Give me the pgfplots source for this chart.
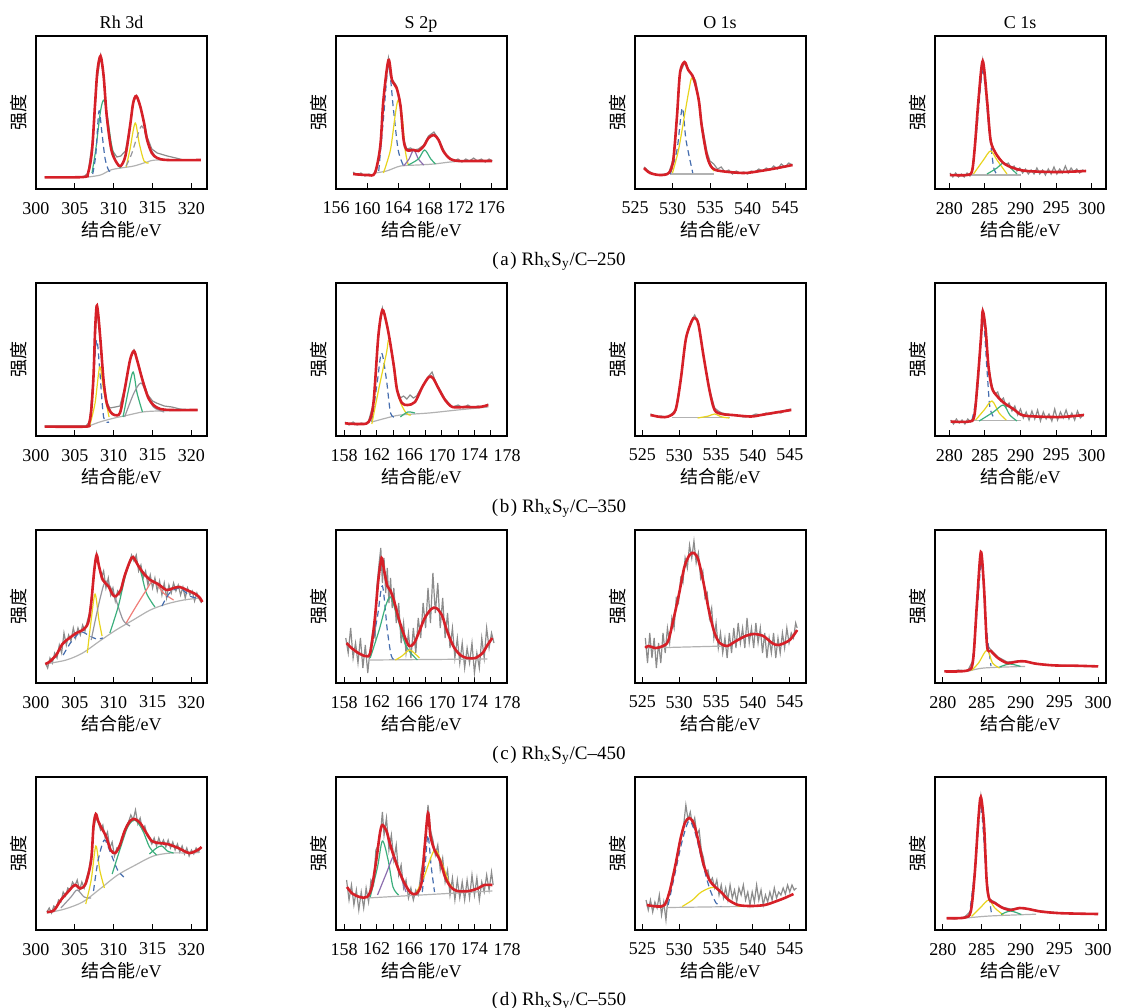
\documentclass[border=0pt]{standalone}
\usepackage{pgfplots}
\pgfplotsset{compat=1.18}
\usepackage{fontspec}
\setmainfont{Liberation Serif}
\newfontfamily\cjk{Noto Sans CJK SC}
\definecolor{fitred}{RGB}{214,32,40}
\definecolor{rawgray}{RGB}{140,140,140}
\definecolor{cblue}{RGB}{70,110,175}
\definecolor{cgreen}{RGB}{60,175,125}
\definecolor{cyellow}{RGB}{232,212,30}
\definecolor{cbg}{RGB}{178,178,178}
\definecolor{csalmon}{RGB}{240,125,120}
\definecolor{cpurple}{RGB}{140,110,175}
\definecolor{cgraycomp}{RGB}{150,150,158}
\newcommand{\capt}[2]{(\kern0.8pt #1\kern0.8pt)\kern2.5pt Rh\textsubscript{x}S\textsubscript{y}/C–#2}
\pgfplotsset{
  xps/.style={
    scale only axis, width=85.5pt, height=76.5pt,
    ymin=0, ymax=153, ytick=\empty,
    xtick pos=bottom, tick align=inside,
    major tick length=3pt, minor tick length=3pt,
    axis line style={line width=0.6pt},
    every tick/.style={black, line width=0.5pt},
    /pgf/number format/assume math mode=true,
    /pgf/number format/1000 sep={},
    ticklabel style={font=\fontsize{9}{10}\selectfont},
    xticklabel style={yshift=-3pt},
    xlabel={{\cjk 结合能}/eV},
    ylabel={\cjk 强度},
    xlabel style={at={(axis description cs:0.5,-0.31)}, anchor=base},
    ylabel style={at={(axis description cs:-0.1,0.5)}, anchor=center},
    label style={font=\fontsize{9}{10}\selectfont},
  },
  rh/.style={xps, xmin=300, xmax=322, xtick={300,305,...,320}},
  sa/.style={xps, xmin=156, xmax=178, xtick={156,160,...,176}},
  sb/.style={xps, xmin=157, xmax=178, xtick={158,162,...,178}, minor xtick={160,164,...,176}},
  oa/.style={xps, xmin=525, xmax=547.8, xtick={525,530,...,545}},
  ob/.style={xps, xmin=524, xmax=547.2, xtick={525,530,...,545}},
  ca/.style={xps, xmin=278, xmax=302, xtick={280,285,...,300}},
  cb/.style={xps, xmin=279, xmax=301, xtick={280,285,...,300}},
  raw/.style={rawgray, line width=0.6pt},
  fit/.style={fitred, line width=1.3pt, smooth},
  comp/.style={line width=0.6pt, smooth},
  bg/.style={cbg, line width=0.6pt, smooth},
}
\begin{document}
\begin{tikzpicture}[font=\fontsize{9}{10}\selectfont]
\useasboundingbox (0,0) rectangle (560.5pt,-504pt);
% column titles
\node[anchor=base] at (60.75pt,-14pt) {Rh 3d};
\node[anchor=base] at (210.5pt,-14pt) {S 2p};
\node[anchor=base] at (360pt,-14pt) {O 1s};
\node[anchor=base] at (510pt,-14pt) {C 1s};
% captions
\begin{scope}[every node/.style={font=\fontsize{9.5}{11}\selectfont, anchor=base}]
\node at (279.5pt,-132.5pt) {\capt{a}{250}};
\node at (279.5pt,-256pt) {\capt{b}{350}};
\node at (279.5pt,-379.5pt) {\capt{c}{450}};
\node at (279.5pt,-502.5pt) {\capt{d}{550}};
\end{scope}

%================ ROW A ================
\begin{axis}[rh, at={(18pt,-18pt)}, anchor=north west]
\addplot[raw] coordinates {(301.1,12)(306.1,12)(306.7,16)(307.4,56)(307.8,106)(308.3,133)(308.7,113)(309.1,73)(309.7,40)(310.4,32)(310.9,33)(311.5,38)(312.1,63)(312.5,86)(312.9,93)(313.4,83)(313.9,68)(314.3,52)(314.9,40)(315.6,36)(316.9,33)(318,31)(319,29)(321.2,29)};
\addplot[bg] coordinates {(306.7,12)(308.3,14)(309.6,19)(310.9,21)(312.6,23)(314.3,27)(315.6,29)(321.2,29)};
\addplot[comp, cgreen] coordinates {(307.2,16)(307.7,40)(308.3,78)(308.75,89)(309.2,72)(309.7,45)(310.3,27)(310.9,21)};
\addplot[comp, cblue, densely dashed] coordinates {(307.3,15)(307.7,35)(308.1,78)(308.5,55)(308.9,30)(309.4,18)(310,17)};
\addplot[comp, cyellow] coordinates {(311.6,22)(312.1,40)(312.76,66)(313.3,45)(313.9,28)(314.5,26)};
\addplot[comp, cgraycomp, densely dashed] coordinates {(311.6,23)(312.3,35)(313,52)(313.6,63)(314.2,52)(314.9,38)(315.6,31)(316.5,29)};
\addplot[fit] coordinates {(301.1,11.7)(306.1,12)(306.7,16)(307.2,38)(307.6,85)(307.9,118)(308.3,133)(308.7,113)(309.1,73)(309.7,39)(310.4,26)(310.9,23)(311.5,33)(312.1,63)(312.5,86)(312.9,93)(313.4,83)(313.9,66)(314.3,49)(314.9,36)(315.6,31)(316.9,29)(321.2,29)};
\end{axis}

\begin{axis}[sa, at={(168pt,-18pt)}, anchor=north west]
\addplot[raw] coordinates {(158.2,17)(158.7,14)(159.2,16)(159.7,13)(160.2,15)(160.7,14)(161.2,18)(161.7,43)(162.1,89)(162.75,131)(163.2,110)(163.8,103)(164.3,84)(164.7,50)(165.1,40)(165.6,41)(166,39)(166.6,40)(167.3,44)(167.9,53)(168.6,57)(169.2,50)(169.8,40)(170.2,33)(170.7,31)(171.2,28)(171.7,30)(172.2,27)(172.7,30)(173.2,28)(173.7,31)(174.2,28)(174.7,30)(175.2,27)(175.7,30)(176.1,28)};
\addplot[bg] coordinates {(161,16)(162.5,18)(164.3,23)(166.5,24)(168.6,25)(170.7,27)(172.9,28)(176.1,28)};
\addplot[comp, cblue, densely dashed] coordinates {(161.5,18)(162.1,70)(162.75,123)(163.4,79)(164,39)(164.7,23)};
\addplot[comp, cyellow] coordinates {(162.1,16)(163,39)(163.6,73)(164,89)(164.5,73)(164.9,39)(165.3,24)};
\addplot[comp, cpurple] coordinates {(164.7,23)(165.4,30)(166,39)(166.6,30)(167.3,24)};
\addplot[comp, cgreen] coordinates {(165.3,24)(166.6,30)(167.4,39)(168.2,30)(168.8,25)};
\addplot[fit] coordinates {(158.2,15)(160,14)(161,16)(161.7,43)(162.1,89)(162.75,129)(163.2,109)(163.8,101)(164.3,83)(164.7,49)(165.1,39)(166,39)(166.6,38)(167.3,43)(167.9,51)(168.6,54)(169.2,49)(169.8,38)(170.7,30)(171.8,28)(173.7,28)(176.1,28)};
\end{axis}

\begin{axis}[oa, at={(317.5pt,-18pt)}, anchor=north west]
\addplot[raw] coordinates {(526.2,22)(526.8,18)(527.5,15)(528.3,14)(529.5,16)(530.1,30)(530.6,73)(531,116)(531.6,126)(532.1,120)(532.6,114)(533.1,108)(533.5,90)(533.9,66)(534.6,37)(535,28)(535.5,25)(536,20)(536.5,22)(537,17)(537.5,19)(538,15)(538.5,18)(539,16)(539.5,17)(540,15)(540.5,18)(541,17)(541.5,20)(542,18)(542.5,21)(543,19)(543.5,23)(544,20)(544.5,25)(545,22)(545.5,26)(546,24)};
\addplot[bg] coordinates {(529.7,15)(535.5,15)};
\addplot[comp, cblue, densely dashed] coordinates {(529.7,15)(530.6,39)(531.3,81)(531.8,49)(532.7,16)};
\addplot[comp, cyellow] coordinates {(530,16)(530.8,39)(531.5,69)(532.2,99)(532.6,111)(533.3,96)(533.9,63)(534.6,33)(535.5,18)};
\addplot[fit] coordinates {(526.2,21)(527,16)(528.3,14)(529.5,16)(530.1,29)(530.6,73)(531,116)(531.6,127)(532.1,119)(532.8,111)(533.5,89)(533.9,63)(534.6,33)(535.3,21)(536.4,18)(539.5,16)(541.7,18)(544,21)(546,24)};
\end{axis}

\begin{axis}[ca, at={(467.5pt,-18pt)}, anchor=north west]
\addplot[raw] coordinates {(280.1,16)(280.5,12)(280.9,16)(281.3,12)(281.7,15)(282.1,12)(282.5,16)(282.9,13)(283.3,20)(283.6,43)(284.1,89)(284.7,128)(285.3,89)(285.8,49)(286.3,39)(286.7,33)(287.1,30)(287.5,27)(287.9,25)(288.3,26)(288.7,21)(289.1,23)(289.5,18)(289.9,21)(290.3,16)(290.7,20)(291.1,15)(291.5,19)(291.9,15)(292.3,21)(292.7,15)(293.1,19)(293.5,14)(293.9,20)(294.3,15)(294.7,22)(295.1,15)(295.5,20)(295.9,16)(296.3,23)(296.7,16)(297.1,21)(297.5,17)(297.9,20)(298.3,16)(298.7,19)(299.2,18)};
\addplot[bg] coordinates {(283,14)(290,14)};
\addplot[comp, cblue, densely dashed] coordinates {(283.2,16)(283.9,62)(284.7,118)(285.5,66)(286.2,23)(286.7,15)};
\addplot[comp, cyellow] coordinates {(283.4,15)(284.8,29)(285.8,38)(286.7,29)(288.1,15)};
\addplot[comp, cgreen] coordinates {(285.3,15)(286.7,21)(287.6,26)(288.6,21)(289.5,15)};
\addplot[fit] coordinates {(280.1,14)(282.5,14)(283.2,18)(283.6,43)(284.1,89)(284.7,128)(285.3,89)(285.8,49)(286.5,36)(287.6,26)(289,21)(290.9,18)(295.2,17)(299.2,18)};
\end{axis}

%================ ROW B ================
\begin{axis}[rh, at={(18pt,-141.5pt)}, anchor=north west]
\addplot[raw] coordinates {(301.1,10)(306.4,10)(306.9,14)(307.4,60)(307.8,130)(308.3,95)(308.7,55)(309.1,34)(309.5,28)(310.2,29)(310.8,30)(311.4,48)(312.1,77)(312.6,86)(313,77)(313.7,57)(314.4,41)(315,35)(315.5,33)(316.5,30)(317.5,29)(318.5,27)(320.8,26)};
\addplot[bg] coordinates {(306.6,9.4)(308.2,14)(310.1,18)(311.9,21)(313.7,24)(315.6,25)(320.8,26)};
\addplot[comp, cblue, densely dashed] coordinates {(306.9,10)(307.3,49)(307.8,96)(308.2,66)(308.7,19)(309.4,14)};
\addplot[comp, cyellow] coordinates {(306.9,10)(307.6,33)(308.2,69)(308.7,46)(309.4,19)};
\addplot[comp, cgreen] coordinates {(311.2,19)(311.9,46)(312.5,64)(313,43)(313.7,24)};
\addplot[comp, cgraycomp] coordinates {(311.4,19)(312.6,43)(313.5,53)(314.2,43)(315.1,29)(316.5,24)};
\addplot[fit] coordinates {(301.1,9.4)(306.4,9.4)(306.8,12)(307.1,25)(307.4,60)(307.6,105)(307.8,130)(308,122)(308.3,95)(308.7,55)(309.1,33)(309.6,24)(310.1,21)(310.8,23)(311.4,46)(312.1,76)(312.6,85)(313,76)(313.7,56)(314.4,39)(315.1,31)(316,27)(317.4,26)(320.8,26)};
\end{axis}

\begin{axis}[sb, at={(168pt,-141.5pt)}, anchor=north west]
\addplot[raw] coordinates {(158.1,14)(158.6,11)(159.1,14)(159.6,11)(160.1,13)(160.6,12)(161,15)(161.6,33)(162.2,100)(162.7,128)(163.2,113)(163.6,96)(164.1,70)(164.5,47)(164.9,38)(165.3,40)(165.7,37)(166.1,41)(166.5,38)(166.9,40)(167.6,50)(168.4,60)(168.8,64)(169.1,57)(169.5,50)(170.4,37)(171.3,29)(172,31)(172.6,28)(173.2,31)(173.8,28)(174.4,30)(175,29)(175.7,32)};
\addplot[bg] coordinates {(161.4,14)(163.2,18)(164.9,21)(168.4,23)(171.9,26)(175.7,29)};
\addplot[comp, cblue, densely dashed] coordinates {(161.4,14)(162.1,56)(162.6,83)(163.2,56)(163.7,23)(164.3,19)};
\addplot[comp, cyellow] coordinates {(161.4,12)(162.3,49)(163.2,83)(163.5,96)(164.1,73)(164.7,39)(165.6,23)(166.2,21)};
\addplot[comp, cgreen] coordinates {(164.9,19)(165.8,24)(166.7,23)};
\addplot[fit] coordinates {(158.1,12.7)(159.7,12)(161,14)(161.6,33)(162.2,100)(162.7,126)(163.2,113)(163.6,96)(164.1,70)(164.5,46)(165.1,33)(165.8,31)(166.7,34)(167.6,49)(168.4,59)(168.9,58)(169.5,49)(170.4,36)(171.3,29)(172.8,29)(174.6,29)(175.7,31)};
\end{axis}

\begin{axis}[ob, at={(317.5pt,-141.5pt)}, anchor=north west]
\addplot[raw] coordinates {(526.1,22)(527,19)(527.5,20)(528.5,19)(529.5,26)(530.2,56)(530.9,97)(531.7,116)(532.1,121)(532.6,113)(533.3,80)(534.1,47)(534.8,28)(535.3,25)(535.8,23)(536.5,22)(537.2,21)(538,20)(538.8,19)(539.7,20)(540.4,22)(541.1,21)(541.8,23)(542.5,22)(543.1,24)(543.8,23)(544.5,26)(545.2,27)};
\addplot[bg] coordinates {(529,18.5)(536.8,18.5)};
\addplot[comp, cyellow] coordinates {(532.5,18)(534,20)(534.8,22)(535.8,19)(536.8,18)};
\addplot[fit] coordinates {(526.1,21)(527.5,19)(528.5,19.5)(529.5,26)(530.2,56)(530.9,97)(531.7,115)(532.1,118)(532.6,112)(533.3,80)(534.1,46)(534.8,26)(535.8,22)(537.2,21)(539.7,19.5)(541.1,21)(543.1,23.5)(545.2,26)};
\end{axis}

\begin{axis}[ca, at={(467.5pt,-141.5pt)}, anchor=north west]
\addplot[raw] coordinates {(280.2,16)(280.6,12)(281,17)(281.4,13)(281.8,16)(282.2,12)(282.6,17)(283,14)(283.5,20)(284,56)(284.5,103)(284.7,125)(285.1,107)(285.5,70)(286,50)(286.4,42)(286.8,44)(287.2,35)(287.6,38)(288,29)(288.4,33)(288.8,25)(289.2,30)(289.6,21)(290,27)(290.4,18)(290.8,24)(291.2,16)(291.6,25)(292,17)(292.4,26)(292.8,15)(293.2,24)(293.6,17)(294,22)(294.4,15)(294.8,27)(295.2,16)(295.6,24)(296,18)(296.4,26)(296.8,17)(297.2,23)(297.6,16)(298,25)(298.4,18)(298.9,22)};
\addplot[bg] coordinates {(282.5,15.4)(290,15.4)};
\addplot[comp, cblue, densely dashed] coordinates {(283.2,16)(284,49)(284.7,120)(285.3,66)(285.7,29)(286.3,18)};
\addplot[comp, cyellow] coordinates {(283.7,16)(284.9,26)(286,35)(287,23)(288,16)};
\addplot[comp, cgreen] coordinates {(284.2,15)(286.2,24)(287.6,31)(288.5,21)(289.5,15)};
\addplot[fit] coordinates {(280.2,14.4)(282.7,14.4)(283.5,19.5)(284,56)(284.5,103)(284.7,125)(285.1,107)(285.5,70)(286,48)(286.7,40)(287.7,33)(289,27)(290.2,21)(292.2,19.5)(295.7,19)(298.9,21)};
\end{axis}

%================ ROW C ================
\begin{axis}[rh, at={(18pt,-265pt)}, anchor=north west]
\addplot[raw] coordinates {(301.2,20)(301.5,15)(301.8,25)(302.1,20)(302.4,30)(302.7,25)(303,38)(303.3,30)(303.6,50)(303.9,38)(304.2,48)(304.5,42)(304.8,55)(305.1,45)(305.4,55)(305.7,48)(306,58)(306.3,52)(306.6,62)(306.9,70)(307.2,90)(307.5,115)(307.8,130)(308.1,118)(308.4,105)(308.7,112)(309,95)(309.3,105)(309.6,88)(309.9,95)(310.2,82)(310.5,92)(310.8,88)(311.1,100)(311.4,108)(311.7,115)(312,120)(312.3,128)(312.6,122)(312.9,128)(313.2,112)(313.5,118)(313.8,105)(314.1,112)(314.4,98)(314.7,108)(315,95)(315.3,105)(315.6,92)(315.9,102)(316.2,88)(316.5,100)(316.8,85)(317.1,98)(317.4,90)(317.7,100)(318,92)(318.3,98)(318.6,88)(318.9,96)(319.2,85)(319.5,95)(319.8,88)(320.1,92)(320.4,82)(320.7,90)(321,84)(321.3,80)};
\addplot[bg] coordinates {(301.2,19)(303.9,23)(306,30)(308.2,42)(310.3,53)(312.5,63)(314.7,73)(316.8,79)(319,83)(321.1,85)};
\addplot[comp, cblue, densely dashed] coordinates {(303.5,28)(304.6,42)(305.8,51)(306.9,47)(307.8,44)(308.6,45)};
\addplot[comp, cyellow] coordinates {(306.6,30)(307.1,63)(307.6,89)(308.1,63)(308.5,47)};
\addplot[comp, cgraycomp] coordinates {(307.1,43)(308.2,83)(309,102)(310.1,87)(311.2,63)(312.1,57)};
\addplot[comp, cgreen] coordinates {(309.5,50)(310.6,77)(311.6,110)(312.5,125)(313.4,113)(314.2,90)(315.3,76)};
\addplot[comp, csalmon] coordinates {(311.6,60)(312.9,77)(314.2,93)(315.1,102)(316.4,90)(317.7,83)};
\addplot[comp, cblue, densely dashed] coordinates {(316.2,77)(317.2,90)(318.5,95)(319.8,87)(321.1,84)};
\addplot[fit] coordinates {(301.2,19)(301.7,21)(302.6,28)(303.4,39)(304.3,45)(305.2,50)(306,53)(306.7,60)(307.1,80)(307.5,113)(307.8,128)(308.1,117)(308.6,103)(309.3,97)(309.9,88)(310.3,87)(310.9,93)(311.4,107)(312.1,122)(312.5,126)(313.1,118)(313.8,110)(314.7,103)(315.7,99)(316.8,93)(317.7,95)(318.5,96)(319.4,93)(320.5,89)(321.1,85)(321.4,81)};
\end{axis}

\begin{axis}[sb, at={(168pt,-265pt)}, anchor=north west]
\addplot[raw] coordinates {(158.2,45)(158.5,30)(158.8,55)(159.1,25)(159.4,40)(159.7,20)(160,45)(160.3,15)(160.6,38)(160.9,10)(161.2,35)(161.5,50)(161.8,45)(162,95)(162.3,120)(162.5,135)(162.7,100)(162.9,125)(163.1,90)(163.3,115)(163.5,80)(163.7,105)(163.9,75)(164.1,95)(164.4,60)(164.7,80)(165,40)(165.3,60)(165.6,30)(165.9,50)(166.2,25)(166.5,55)(166.8,30)(167.1,65)(167.4,45)(167.7,80)(168,55)(168.3,95)(168.6,60)(168.9,110)(169.2,70)(169.5,100)(169.8,55)(170.1,85)(170.4,45)(170.7,70)(171,35)(171.3,55)(171.6,25)(171.9,45)(172.2,20)(172.5,40)(172.8,15)(173.1,35)(173.4,20)(173.7,40)(174,10)(174.3,30)(174.6,15)(174.9,45)(175.2,25)(175.5,55)(175.8,35)(176.1,50)(176.4,40)};
\addplot[bg] coordinates {(161.2,23)(175.6,24)};
\addplot[comp, cblue, densely dashed] coordinates {(161.2,27)(162.1,67)(162.7,97)(163.3,53)(163.8,27)(164.3,23)};
\addplot[comp, cgreen] coordinates {(161.2,25)(162.3,53)(163.1,77)(163.7,86)(164.5,67)(165.6,37)(167,23)};
\addplot[comp, cyellow] coordinates {(164.3,23)(165.1,27)(166,33)(166.6,30)(167.25,25)};
\addplot[fit] coordinates {(158.3,40)(158.9,35)(159.75,30)(160.6,27)(161.2,30)(161.75,63)(162.2,103)(162.6,125)(162.9,113)(163.3,97)(163.7,92)(164.1,83)(164.75,63)(165.4,47)(166,37)(166.6,40)(167.25,52)(167.9,65)(168.7,74)(169.3,75)(170,68)(170.6,53)(171.4,37)(172.25,28)(173.1,25)(174.1,25)(175,30)(175.6,38)(176.2,45)};
\end{axis}

\begin{axis}[ob, at={(317.5pt,-265pt)}, anchor=north west]
\addplot[raw] coordinates {(525.4,45)(525.7,20)(526,50)(526.3,25)(526.6,45)(526.9,15)(527.2,40)(527.5,20)(527.8,50)(528.1,30)(528.4,55)(528.7,40)(529,65)(529.3,55)(529.6,85)(529.9,80)(530.2,105)(530.5,100)(530.8,125)(531.1,115)(531.4,138)(531.7,125)(532,142)(532.3,120)(532.6,130)(532.9,105)(533.2,112)(533.5,85)(533.8,90)(534.1,65)(534.4,75)(534.7,45)(535,60)(535.3,35)(535.6,50)(535.9,30)(536.2,45)(536.5,25)(536.8,50)(537.1,30)(537.4,55)(537.7,35)(538,60)(538.3,40)(538.6,55)(538.9,35)(539.2,65)(539.5,40)(539.8,55)(540.1,35)(540.4,60)(540.7,40)(541,55)(541.3,30)(541.6,50)(541.9,25)(542.2,45)(542.5,30)(542.8,50)(543.1,25)(543.4,45)(543.7,30)(544,50)(544.3,35)(544.6,55)(544.9,40)(545.2,50)(545.5,45)(545.8,60)(546,55)};
\addplot[bg] coordinates {(525.6,35)(536.3,37)};
\addplot[fit] coordinates {(525.4,35)(525.8,37)(526.8,35)(527.8,37)(528.5,42)(529.2,63)(530,90)(530.7,116)(531.4,128)(532,130)(532.6,123)(533.3,100)(534.1,70)(534.8,50)(535.5,40)(536.5,37)(537.7,42)(539,47)(540.1,49)(541.4,47)(542.6,40)(543.5,38)(545,43)(546,53)};
\end{axis}

\begin{axis}[cb, at={(467.5pt,-265pt)}, anchor=north west]
\addplot[raw] coordinates {(280.2,12)(281,11)(282,13)(283.2,12)(283.9,23)(284.4,80)(284.9,132)(285.3,96)(285.7,38)(286.2,33)(287.1,26)(288.3,21)(289.7,22)(290.6,22)(292,19)(294.3,18)(297,17)(300,17)};
\addplot[bg] coordinates {(283.2,11.6)(285.3,15)(290.6,16.6)};
\addplot[comp, cblue, densely dashed] coordinates {(283.7,13)(284.4,70)(285,121)(285.5,63)(286.2,17)};
\addplot[comp, cyellow] coordinates {(283.7,12.6)(284.6,20)(285.7,33)(286.4,20)(287.3,15)};
\addplot[comp, cgreen] coordinates {(287.3,16)(288.6,19)(290,16.6)};
\addplot[fit] coordinates {(280.2,11.6)(283.2,12.6)(283.9,23)(284.4,80)(284.9,131)(285.3,96)(285.7,37)(286.2,32)(287.1,25)(288.3,20)(289.7,21.6)(290.6,21.6)(292,19.3)(294.3,17.6)(297,17.3)(300,16.6)};
\end{axis}

%================ ROW D ================
\begin{axis}[rh, at={(18pt,-388.5pt)}, anchor=north west]
\addplot[raw] coordinates {(301.4,18)(301.7,22)(302,17)(302.3,24)(302.6,22)(302.9,30)(303.2,28)(303.5,38)(303.8,34)(304.1,42)(304.4,40)(304.7,48)(305,44)(305.3,50)(305.6,40)(305.9,48)(306.2,42)(306.5,52)(306.8,60)(307.1,75)(307.4,100)(307.7,112)(308,108)(308.3,100)(308.6,105)(308.9,92)(309.2,98)(309.5,82)(309.8,88)(310.1,74)(310.4,82)(310.7,80)(311,92)(311.3,96)(311.6,104)(311.9,108)(312.2,115)(312.5,110)(312.8,120)(313.1,106)(313.4,112)(313.7,100)(314,104)(314.3,94)(314.6,92)(314.9,86)(315.2,92)(315.5,84)(315.8,92)(316.1,85)(316.4,90)(316.7,83)(317,90)(317.3,82)(317.6,88)(317.9,80)(318.2,86)(318.5,78)(318.8,84)(319.1,76)(319.4,82)(319.7,74)(320,80)(320.3,76)(320.6,82)(320.9,78)(321.2,83)};
\addplot[bg] coordinates {(301.4,17)(303.7,21)(306,28)(308.3,41.5)(310.5,55)(312.8,65)(315.1,74)(317.4,77)(320.1,77)(321.1,78)};
\addplot[comp, cgraycomp] coordinates {(303.2,22)(304.5,33)(305.3,40)(306.2,33)(307.1,32)};
\addplot[comp, cyellow] coordinates {(306.4,26)(307.1,50)(307.7,84)(308.2,60)(308.8,42)};
\addplot[comp, cblue, densely dashed] coordinates {(307.4,39)(308,70)(308.8,90)(309.6,77)(310.5,60)(311.3,53)};
\addplot[comp, cgreen] coordinates {(309.8,56)(310.9,83)(311.8,103)(312.7,110)(313.7,100)(314.6,83)(315.5,75)};
\addplot[comp, cgreen] coordinates {(314.6,76)(315.5,82)(316.2,84)(316.9,79)(317.7,77)};
\addplot[fit] coordinates {(301.4,18)(302.3,19.6)(303.2,30)(304.1,38)(305,45)(305.7,41.5)(306.4,46.6)(307.1,70)(307.4,104)(307.7,116)(308,109)(308.5,101)(309,94)(309.6,80)(310.2,77)(310.8,85)(311.4,99)(312.1,109)(312.7,111)(313.4,107)(314.2,97)(314.9,89)(315.8,87)(316.9,86)(318.3,82)(319.7,77)(320.8,80)(321.3,83)};
\end{axis}

\begin{axis}[sb, at={(168pt,-388.5pt)}, anchor=north west]
\addplot[raw] coordinates {(158.3,50)(158.6,30)(158.9,45)(159.2,25)(159.5,40)(159.8,20)(160.1,38)(160.4,22)(160.7,42)(161,28)(161.3,50)(161.6,45)(161.9,80)(162.2,85)(162.5,100)(162.7,118)(162.9,95)(163.2,112)(163.5,80)(163.8,95)(164.1,70)(164.4,85)(164.7,55)(165,65)(165.3,42)(165.6,50)(165.9,32)(166.2,42)(166.5,30)(166.8,40)(167.1,35)(167.4,55)(167.7,70)(168,95)(168.3,125)(168.6,100)(168.9,90)(169.2,75)(169.5,85)(169.8,60)(170.1,72)(170.4,48)(170.7,60)(171,35)(171.3,52)(171.6,30)(171.9,50)(172.2,32)(172.5,48)(172.8,30)(173.1,50)(173.4,32)(173.7,55)(174,35)(174.3,52)(174.6,30)(174.9,48)(175.2,38)(175.5,55)(175.8,40)(176.1,58)(176.3,45)};
\addplot[bg] coordinates {(160.8,32)(176.2,39)};
\addplot[comp, cgreen] coordinates {(161.2,33)(162.1,63)(162.7,89)(163.4,70)(164,43)(164.7,35)};
\addplot[comp, cpurple] coordinates {(162.1,35)(163.2,57)(164.1,74)(164.7,60)(165.6,38)};
\addplot[comp, cblue, densely dashed] coordinates {(167.6,38)(168,70)(168.3,95)(168.7,63)(169.1,38)};
\addplot[comp, cyellow] coordinates {(166.9,38)(167.8,53)(169.1,80)(170,67)(170.9,47)(171.7,39)};
\addplot[fit] coordinates {(158.35,43)(159,36.5)(159.9,33)(160.8,33)(161.4,43)(161.95,70)(162.4,97)(162.7,105)(163.2,99)(163.6,87)(164.05,75)(164.7,60)(165.4,47)(166.2,37)(166.9,36.5)(167.5,47)(167.9,84)(168.3,117)(168.6,94)(169.1,80)(169.75,70)(170.4,53)(171.1,43)(171.9,39)(173.3,39)(174.4,41.5)(175.2,45)(176.2,45)};
\end{axis}

\begin{axis}[ob, at={(317.5pt,-388.5pt)}, anchor=north west]
\addplot[raw] coordinates {(525.5,30)(525.8,20)(526.1,30)(526.4,18)(526.7,28)(527,22)(527.3,35)(527.6,15)(527.9,28)(528.2,10)(528.5,35)(528.8,40)(529.1,55)(529.4,60)(529.7,75)(530,85)(530.3,95)(530.6,105)(530.9,125)(531.2,110)(531.5,118)(531.8,105)(532.1,112)(532.4,95)(532.7,100)(533,80)(533.3,72)(533.6,58)(533.9,60)(534.2,48)(534.5,52)(534.8,42)(535.1,50)(535.4,35)(535.7,45)(536,32)(536.3,42)(536.6,30)(536.9,45)(537.2,32)(537.5,40)(537.8,28)(538.1,42)(538.4,35)(538.7,45)(539,30)(539.3,38)(539.6,25)(539.9,38)(540.2,28)(540.5,45)(540.8,30)(541.1,40)(541.4,25)(541.7,35)(542,28)(542.3,38)(542.6,30)(542.9,42)(543.2,32)(543.5,38)(543.8,35)(544.1,42)(544.4,36)(544.7,45)(545,38)(545.3,45)(545.6,40)(545.9,42)};
\addplot[bg] coordinates {(528.5,22.5)(538.2,23.5)};
\addplot[comp, cblue, densely dashed] coordinates {(528.5,25)(529.5,59)(530.4,89)(531.3,109)(532.1,99)(533.1,69)(534.1,42)(535,27)(535.7,23.5)};
\addplot[comp, cyellow] coordinates {(530.4,23.5)(531.8,30)(533,38)(534.6,42.7)(535.8,37)(537.3,27)(538.2,23.5)};
\addplot[fit] coordinates {(525.6,25)(527,23.5)(528,25)(528.7,38.7)(529.5,65.6)(530.2,92)(530.8,107.6)(531.4,112)(532,106)(532.6,89)(533.3,65.6)(534.1,50)(534.8,43.7)(535.8,37)(536.7,30)(538,25)(539.7,24)(541.6,25)(543.1,28.6)(544.3,32)(545.5,36)};
\end{axis}

\begin{axis}[cb, at={(467.5pt,-388.5pt)}, anchor=north west]
\addplot[raw] coordinates {(280.5,12)(281.5,11)(282.8,13)(283.6,19)(284.1,55)(284.6,113)(284.9,134)(285.3,106)(285.65,49)(286,31)(286.7,28)(287.6,23)(288.7,21)(289.9,22)(291,21)(292.6,19)(295.2,17)(300,16)};
\addplot[bg] coordinates {(282.8,11.8)(286,14)(292,15.8)};
\addplot[comp, cblue, densely dashed] coordinates {(283.4,13.5)(284.2,65)(284.9,123)(285.6,55)(286.3,15)};
\addplot[comp, cyellow] coordinates {(283.7,13.5)(284.8,22)(285.9,30)(286.7,22)(287.8,15)};
\addplot[comp, cgreen] coordinates {(287.5,15.5)(288.7,19)(290.1,15.5)};
\addplot[fit] coordinates {(280.5,11.8)(282.8,12.4)(283.6,18.5)(284.1,55)(284.6,112.6)(284.9,133)(285.3,106)(285.65,49)(286,30.6)(286.7,27)(287.6,22.5)(288.7,20)(289.9,22)(291,21)(292.6,18.5)(295.2,16.8)(300,16)};
\end{axis}
\end{tikzpicture}
\end{document}
